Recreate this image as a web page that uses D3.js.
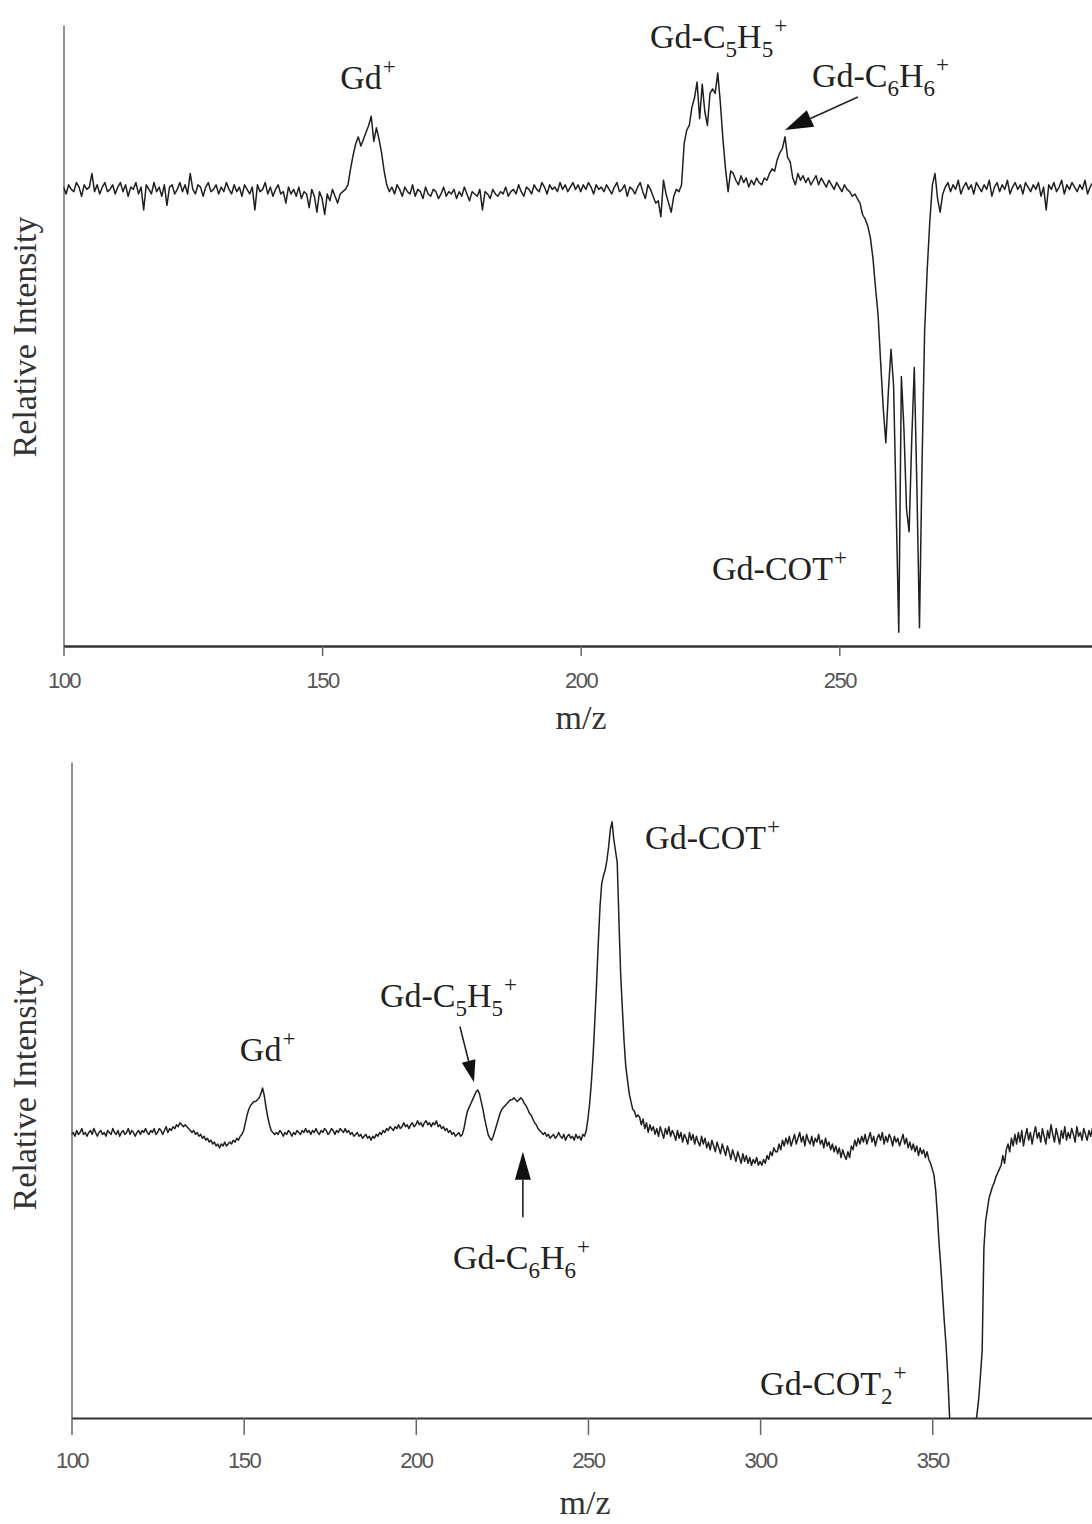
<!DOCTYPE html>
<html>
<head>
<meta charset="utf-8">
<script src="https://cdn.jsdelivr.net/npm/d3@7"></script>
<style>
  html, body { margin: 0; padding: 0; background: #fff; }
  svg { display: block; }
</style>
</head>
<body>
<svg id="fig" width="1092" height="1524"></svg>
<script>
// ---------------------------------------------------------------
// Spectrum A (upper): m/z grid starts at 100, step 0.5 (100 .. 299.5)
// relative intensity, baseline = 0
// ---------------------------------------------------------------
const specA_start = 100, specA_step = 0.5;
const specA_intensity = [
  1,-2,2,0,-1,3,1,-3,2,0,        // 100
  1,7,-1,2,-2,1,3,-1,0,2,        // 105
  -2,1,3,-1,2,-3,1,0,3,-2,       // 110
  1,-9,2,0,-2,3,-1,1,-3,2,       // 115
  -7,1,2,-2,0,3,-1,2,-2,7,       // 120
  0,-2,2,1,-3,1,3,-1,0,2,        // 125
  -2,1,-1,3,0,-2,2,-1,1,-3,      // 130
  2,0,-2,1,-9,2,-1,0,3,-2,       // 135
  1,-3,0,2,-2,-1,-6,1,-2,0,      // 140
  -3,1,-4,-1,-2,-8,0,-3,-10,-1,  // 145
  -4,-11,-2,-5,0,-3,-6,-2,-1,0,  // 150
  2,9,15,20,23,19,22,25,28,32,   // 155  Gd+
  21,27,22,16,8,2,-1,1,-2,2,     // 160
  0,-3,1,-1,-2,2,-3,0,-1,-4,     // 165
  1,-2,-3,0,-1,-4,-2,1,-3,-1,    // 170
  -2,0,-4,-1,-3,1,-2,-5,-1,-2,   // 175
  -3,0,-9,-1,-2,-4,0,-2,-3,-1,   // 180
  -2,1,-3,-1,0,-2,2,-1,-3,1,     // 185
  0,-2,2,0,-1,3,1,-2,2,0,        // 190
  1,-1,3,0,2,-1,1,3,0,2,         // 195
  -1,2,0,3,1,-2,2,0,1,-1,        // 200
  2,0,-2,1,3,-1,0,2,-3,1,        // 205
  0,-2,1,3,-1,-4,2,0,-3,-6,      // 210
  -5,-12,4,-2,-6,-10,-3,0,-1,2,  // 215
  20,26,28,36,40,47,31,46,34,28, // 220  Gd-C5H5+
  42,44,42,51,38,22,9,-1,8,7,    // 225
  4,2,6,3,5,1,4,2,5,3,           // 230
  2,5,4,7,9,8,13,16,18,23,       // 235  Gd-C6H6+
  14,12,5,2,7,4,6,3,5,2,         // 240
  4,6,2,5,3,1,4,2,0,3,           // 245
  1,-1,2,0,-1,-3,-2,-4,-6,-11,   // 250
  -13,-16,-21,-30,-43,-55,-76,-96,-111,-88,     // 255  Gd-COT+
  -70,-86,-140,-194,-82,-105,-140,-150,-110,-78,// 260
  -130,-192,-120,-62,-35,-14,2,7,-4,-10,        // 265
  -2,1,3,-1,2,0,4,-2,1,3,        // 270
  0,2,-2,3,1,-1,2,0,4,-3,        // 275
  1,3,-1,2,0,4,-2,1,3,0,         // 280
  2,-2,3,1,-1,2,0,3,-3,1,        // 285
  -9,2,0,3,-1,1,4,-2,2,0,        // 290
  3,1,-1,2,0,4,-2,1,3,0          // 295
];

// ---------------------------------------------------------------
// Spectrum B (lower): m/z grid starts at 100, step 0.5 (100 .. 397)
// ---------------------------------------------------------------
const specB_start = 100, specB_step = 0.5;
const specB_intensity = [
  -3,-2,-4,-1,-3,-2,0,-3,-2,-4,  // 100
  -2,-1,-3,0,-2,-4,-2,-1,-3,-2,  // 105
  -4,-1,-2,-3,0,-2,-3,-1,-4,-2,  // 110
  -1,-3,-2,0,-3,-1,-2,-4,-2,-1,  // 115
  -3,-1,-2,0,-2,-3,-1,-2,0,-3,   // 120
  -2,0,-1,-3,-1,1,-2,0,-1,1,     // 125
  0,2,1,3,2,1,2,1,0,-1,          // 130
  -2,-1,-3,-2,-4,-3,-5,-4,-6,-5, // 135
  -7,-6,-8,-7,-9,-8,-10,-8,-9,-7,// 140
  -9,-8,-7,-8,-6,-7,-5,-6,-4,-3, // 145
  -1,3,7,10,12,13,14,14,15,16,   // 150  Gd+
  18,21,17,11,6,2,-1,-2,-3,-2,   // 155
  -3,-1,-2,-4,-2,-3,-1,-2,-4,-2, // 160
  -3,-1,-2,-3,-1,-2,0,-2,-1,-3,  // 165
  -1,-2,0,-2,-3,-1,-2,0,-1,-3,   // 170
  -2,0,-1,-3,-1,-2,0,-1,-2,0,    // 175
  -2,-1,-3,-2,-4,-3,-2,-4,-3,-5, // 180
  -4,-3,-5,-4,-6,-4,-5,-3,-4,-2, // 185
  -3,-1,-2,0,-1,1,0,-1,1,0,      // 190
  2,0,1,3,1,2,0,2,3,1,           // 195
  2,4,2,3,1,3,4,2,3,1,           // 200
  3,2,4,1,2,0,1,-1,0,-2,         // 205
  -1,-3,-2,-4,-3,-2,-4,-3,0,5,   // 210
  9,11,13,15,17,19,20,18,14,10,  // 215  Gd-C5H5+
  5,1,-3,-5,-6,-4,-1,2,5,8,      // 220
  10,11,12,13,14,15,15,16,15,14, // 225  Gd-C6H6+
  15,16,15,13,12,10,8,7,5,3,     // 230
  2,0,-1,-2,-3,-2,-4,-3,-5,-4,   // 235
  -3,-5,-4,-2,-4,-5,-3,-6,-4,-3, // 240
  -5,-4,-6,-3,-5,-4,-6,-3,-4,-1, // 245
  5,13,24,38,56,75,96,115,127,131,       // 250  Gd-COT+
  134,139,146,155,159,150,144,138,108,80,// 255
  62,45,32,25,18,14,10,9,6,7,    // 260
  6,2,5,0,3,-2,2,-1,1,-3,        // 265
  0,-4,1,-2,-5,0,-3,1,-4,-1,     // 270
  -3,-6,-1,-5,-2,-7,-3,-5,-8,-2, // 275
  -6,-3,-8,-4,-7,-9,-4,-8,-5,-10,// 280
  -7,-11,-6,-9,-12,-7,-10,-13,-8,-11,     // 285
  -14,-9,-12,-16,-11,-14,-17,-12,-15,-18, // 290
  -13,-17,-14,-18,-15,-19,-16,-18,-15,-19,// 295
  -17,-19,-16,-18,-14,-16,-12,-14,-10,-12,// 300
  -12,-8,-11,-6,-9,-5,-8,-4,-9,-6,        // 305
  -3,-8,-5,-2,-7,-4,-9,-3,-6,-8,          // 310
  -4,-9,-5,-7,-3,-8,-6,-10,-5,-9,         // 315
  -7,-11,-8,-12,-9,-13,-10,-15,-11,-14,   // 320
  -16,-12,-15,-9,-11,-6,-9,-5,-8,-4,      // 325
  -7,-3,-8,-5,-2,-7,-4,-9,-5,-3,          // 330
  -6,-2,-8,-4,-7,-3,-5,-9,-4,-7,          // 335
  -5,-9,-6,-3,-8,-5,-10,-7,-11,-8,        // 340
  -12,-9,-14,-10,-13,-11,-15,-12,-16,-18, // 345
  -21,-24,-32,-45,-60,-72,-86,-100,-112,-128,       // 350  Gd-COT2+
  -148,-165,-180,-190,-196,-200,-202,-200,-198,-192,// 355
  -186,-178,-172,-166,-160,-155,-148,-140,-128,-115,// 360
  -62,-48,-42,-36,-33,-30,-28,-25,-23,-21,          // 365
  -19,-14,-18,-11,-8,-12,-5,-9,-3,-8,     // 370
  -2,-7,-1,-9,-4,0,-6,-2,-8,-3,           // 375
  1,-5,-2,-7,0,-4,-8,-1,-5,2,             // 380
  -3,-7,0,-4,-8,-1,-5,1,-6,-2,            // 385
  -5,0,-3,-7,1,-4,-2,-6,0,-3,             // 390
  -6,-1,-4,0,-5                           // 395
];

// axis tick values
const specA_ticks = [100, 150, 200, 250];
const specB_ticks = [100, 150, 200, 250, 300, 350];

// peak labels: parts of the formula, anchor in (m/z, intensity)
const specA_labels = [
  { parts: [{t: "Gd"}, {t: "+", sup: true}], mz: 153.5, v: 44 },
  { parts: [{t: "Gd-C"}, {t: "5", sub: true}, {t: "H"}, {t: "5", sub: true}, {t: "+", sup: true}], mz: 213.4, v: 62 },
  { parts: [{t: "Gd-C"}, {t: "6", sub: true}, {t: "H"}, {t: "6", sub: true}, {t: "+", sup: true}], mz: 244.7, v: 45 },
  { parts: [{t: "Gd-COT"}, {t: "+", sup: true}], mz: 225.4, v: -171 }
];
const specB_labels = [
  { parts: [{t: "Gd-COT"}, {t: "+", sup: true}], mz: 266.6, v: 145 },
  { parts: [{t: "Gd-C"}, {t: "5", sub: true}, {t: "H"}, {t: "5", sub: true}, {t: "+", sup: true}], mz: 189.6, v: 63 },
  { parts: [{t: "Gd"}, {t: "+", sup: true}], mz: 148.9, v: 35 },
  { parts: [{t: "Gd-C"}, {t: "6", sub: true}, {t: "H"}, {t: "6", sub: true}, {t: "+", sup: true}], mz: 210.8, v: -73 },
  { parts: [{t: "Gd-COT"}, {t: "2", sub: true}, {t: "+", sup: true}], mz: 300, v: -138 }
];

// arrows: tail -> tip in (m/z, intensity)
const specA_arrows = [
  { from: [253.6, 40.5], to: [239.5, 26], len: 28, half: 9 }
];
const specB_arrows = [
  { from: [212.8, 53], to: [216.9, 24], len: 22, half: 7 },
  { from: [231.1, -46], to: [231.1, -12], len: 28, half: 8 }
];

// ---------------------------------------------------------------
const svg = d3.select("#fig");
const serif = '"Liberation Serif","Times New Roman",serif';
const sans = '"Liberation Sans",Arial,sans-serif';

function drawLabel(g, parts, px, py) {
  const t = g.append("text")
    .attr("x", px).attr("y", py)
    .attr("font-family", serif).attr("font-size", 34).attr("fill", "#222");
  let shift = 0;
  parts.forEach(p => {
    const target = p.sub ? 9 : p.sup ? -15 : 0;
    const ts = t.append("tspan").text(p.t).attr("dy", target - shift);
    if (p.sub || p.sup) ts.attr("font-size", 23);
    if (p.sup) ts.attr("dx", 1);
    shift = target;
  });
}

function drawArrow(g, x0, y0, x1, y1, len, half) {
  const dx = x1 - x0, dy = y1 - y0, L = Math.hypot(dx, dy);
  const ux = dx / L, uy = dy / L;
  const bx = x1 - ux * len, by = y1 - uy * len;
  g.append("line")
    .attr("x1", x0).attr("y1", y0).attr("x2", bx).attr("y2", by)
    .attr("stroke", "#222").attr("stroke-width", 1.6);
  g.append("path")
    .attr("d", `M${x1},${y1}L${bx - uy * half},${by + ux * half}L${bx + uy * half},${by - ux * half}Z`)
    .attr("fill", "#111");
}

function drawPanel(cfg) {
  const { id, start, step, values, x, y, ticks, tickLen, labelY, axisW, labels, arrows, titleY, mzX, mzY } = cfg;
  const g = svg.append("g");
  const [x0, x1] = x.range();
  const [yb, yt] = y.range();
  const data = values.map((v, i) => ({ mz: start + i * step, v }));

  g.append("clipPath").attr("id", id)
    .append("rect").attr("x", x0).attr("y", yt).attr("width", x1 - x0).attr("height", yb - yt);

  // y axis (no ticks)
  g.append("g").attr("transform", `translate(${x0},0)`)
    .call(d3.axisLeft(y).tickValues([]).tickSizeOuter(0))
    .select(".domain").attr("stroke", "#777").attr("stroke-width", 1.6);

  // x axis
  const ax = g.append("g").attr("transform", `translate(0,${yb})`)
    .call(d3.axisBottom(x).tickValues(ticks).tickSize(tickLen).tickSizeOuter(0).tickFormat(d3.format("d")));
  ax.select(".domain").attr("stroke", "#333").attr("stroke-width", axisW);
  ax.selectAll(".tick line").attr("stroke", "#666").attr("stroke-width", 1.5);
  ax.selectAll(".tick text")
    .attr("y", labelY).attr("dy", null)
    .attr("font-family", sans).attr("font-size", 22).attr("fill", "#555")
    .attr("letter-spacing", "-1.5px");

  // spectrum trace
  const line = d3.line().x(d => x(d.mz)).y(d => y(d.v));
  g.append("path").datum(data)
    .attr("clip-path", `url(#${id})`)
    .attr("d", line)
    .attr("fill", "none").attr("stroke", "#1f1f1f")
    .attr("stroke-width", 1.5).attr("stroke-linejoin", "round");

  // axis titles
  g.append("text")
    .attr("transform", `translate(36,${titleY}) rotate(-90)`)
    .attr("text-anchor", "middle")
    .attr("font-family", serif).attr("font-size", 34).attr("fill", "#333")
    .text("Relative Intensity");
  g.append("text")
    .attr("x", mzX).attr("y", mzY).attr("text-anchor", "middle")
    .attr("font-family", serif).attr("font-size", 34).attr("fill", "#333")
    .text("m/z");

  labels.forEach(l => drawLabel(g, l.parts, x(l.mz), y(l.v)));
  arrows.forEach(a => drawArrow(g, x(a.from[0]), y(a.from[1]), x(a.to[0]), y(a.to[1]), a.len, a.half));
}

drawPanel({
  id: "clipA", start: specA_start, step: specA_step, values: specA_intensity,
  x: d3.scaleLinear([100, 300], [63.5, 1097.9]),
  y: d3.scaleLinear([-200, 72], [646, 25]),
  ticks: specA_ticks, tickLen: 10, labelY: 42, axisW: 2.6,
  labels: specA_labels, arrows: specA_arrows,
  titleY: 337, mzX: 581, mzY: 729
});

drawPanel({
  id: "clipB", start: specB_start, step: specB_step, values: specB_intensity,
  x: d3.scaleLinear([100, 400], [71.5, 1104.4]),
  y: d3.scaleLinear([-150, 190], [1418, 762]),
  ticks: specB_ticks, tickLen: 17, labelY: 50, axisW: 2.2,
  labels: specB_labels, arrows: specB_arrows,
  titleY: 1090, mzX: 585, mzY: 1514
});
</script>
</body>
</html>
